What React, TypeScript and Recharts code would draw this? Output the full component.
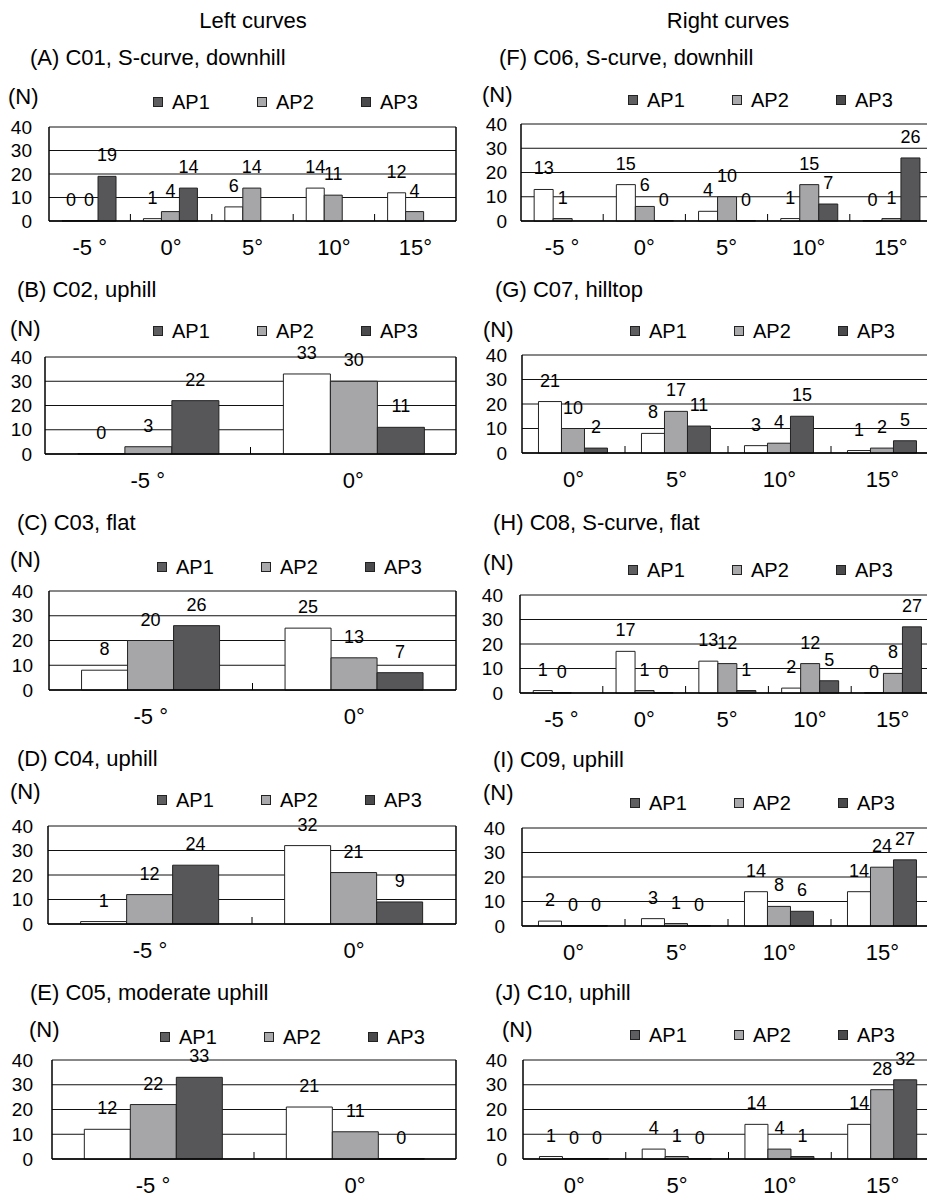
import React from 'react';
import { BarChart, Bar, XAxis, YAxis, CartesianGrid, LabelList } from 'recharts';

const seriesNames = ['AP1', 'AP2', 'AP3'];
const seriesKeys = ['ap1', 'ap2', 'ap3'];
const barFills = ['#ffffff', '#a6a6a9', '#57575a'];
const legendFills = ['#5e5e60', '#a9a9ab', '#4a4a4c'];
const yTicks = [0, 10, 20, 30, 40];

const angles5 = ['-5 °', '0°', '5°', '10°', '15°'];
const angles2 = ['-5 °', '0°'];
const angles4 = ['0°', '5°', '10°', '15°'];

// left curves
const c01Ap1 = [0, 1, 6, 14, 12];
const c01Ap2 = [0, 4, 14, 11, 4];
const c01Ap3 = [19, 14, null, null, null];

const c02Ap1 = [0, 33];
const c02Ap2 = [3, 30];
const c02Ap3 = [22, 11];

const c03Ap1 = [8, 25];
const c03Ap2 = [20, 13];
const c03Ap3 = [26, 7];

const c04Ap1 = [1, 32];
const c04Ap2 = [12, 21];
const c04Ap3 = [24, 9];

const c05Ap1 = [12, 21];
const c05Ap2 = [22, 11];
const c05Ap3 = [33, 0];

// right curves
const c06Ap1 = [13, 15, 4, 1, 0];
const c06Ap2 = [1, 6, 10, 15, 1];
const c06Ap3 = [null, 0, 0, 7, 26];

const c07Ap1 = [21, 8, 3, 1];
const c07Ap2 = [10, 17, 4, 2];
const c07Ap3 = [2, 11, 15, 5];

const c08Ap1 = [1, 17, 13, 2, 0];
const c08Ap2 = [0, 1, 12, 12, 8];
const c08Ap3 = [null, 0, 1, 5, 27];

const c09Ap1 = [2, 3, 14, 14];
const c09Ap2 = [0, 1, 8, 24];
const c09Ap3 = [0, 0, 6, 27];

const c10Ap1 = [1, 4, 14, 14];
const c10Ap2 = [0, 1, 4, 28];
const c10Ap3 = [0, 0, 1, 32];

const FONT = '"Liberation Sans", Arial, sans-serif';

function table(cats: string[], a: (number | null)[], b: (number | null)[], c: (number | null)[]) {
  return cats.map((angle, i) => ({ angle, ap1: a[i], ap2: b[i], ap3: c[i] }));
}

const panels = [
  { title: '(A) C01, S-curve, downhill', data: table(angles5, c01Ap1, c01Ap2, c01Ap3), titleX: 30, titleY: 58, nX: 8, nY: 97, legX: 153, legY: 102, top: 127, bottom: 221, left: 49, right: 456, tickRight: 32 },
  { title: '(B) C02, uphill', data: table(angles2, c02Ap1, c02Ap2, c02Ap3), titleX: 17, titleY: 290, nX: 10, nY: 329, legX: 153, legY: 331, top: 357, bottom: 454, left: 45, right: 456, tickRight: 32 },
  { title: '(C) C03, flat', data: table(angles2, c03Ap1, c03Ap2, c03Ap3), titleX: 17, titleY: 523, nX: 10, nY: 560, legX: 157, legY: 567, top: 591, bottom: 690, left: 49, right: 456, tickRight: 33 },
  { title: '(D) C04, uphill', data: table(angles2, c04Ap1, c04Ap2, c04Ap3), titleX: 17, titleY: 759, nX: 10, nY: 792, legX: 157, legY: 800, top: 826, bottom: 924, left: 48, right: 456, tickRight: 33 },
  { title: '(E) C05, moderate uphill', data: table(angles2, c05Ap1, c05Ap2, c05Ap3), titleX: 30, titleY: 993, nX: 29, nY: 1030, legX: 160, legY: 1037, top: 1060, bottom: 1159, left: 52, right: 456, tickRight: 33 },
  { title: '(F) C06, S-curve, downhill', data: table(angles5, c06Ap1, c06Ap2, c06Ap3), titleX: 499, titleY: 58, nX: 482, nY: 95, legX: 628, legY: 100, top: 124, bottom: 221, left: 521, right: 932, tickRight: 507 },
  { title: '(G) C07, hilltop', data: table(angles4, c07Ap1, c07Ap2, c07Ap3), titleX: 495, titleY: 290, nX: 483, nY: 330, legX: 630, legY: 331, top: 355, bottom: 453, left: 522, right: 934, tickRight: 507 },
  { title: '(H) C08, S-curve, flat', data: table(angles5, c08Ap1, c08Ap2, c08Ap3), titleX: 493, titleY: 523, nX: 483, nY: 563, legX: 628, legY: 570, top: 595, bottom: 693, left: 520, right: 934, tickRight: 503 },
  { title: '(I) C09, uphill', data: table(angles4, c09Ap1, c09Ap2, c09Ap3), titleX: 493, titleY: 760, nX: 483, nY: 793, legX: 630, legY: 803, top: 828, bottom: 926, left: 522, right: 934, tickRight: 505 },
  { title: '(J) C10, uphill', data: table(angles4, c10Ap1, c10Ap2, c10Ap3), titleX: 495, titleY: 993, nX: 502, nY: 1030, legX: 630, legY: 1035, top: 1060, bottom: 1159, left: 523, right: 934, tickRight: 507 },
];

function TextAt({ x, cy, size, children, center }: any) {
  return (
    <div
      style={{
        position: 'absolute',
        left: center ? x - 150 : x,
        width: center ? 300 : undefined,
        textAlign: center ? 'center' : 'left',
        top: cy - size * 0.49,
        fontSize: size,
        lineHeight: `${size}px`,
        fontFamily: FONT,
        whiteSpace: 'nowrap',
        color: '#000',
      }}
    >
      {children}
    </div>
  );
}

function AngleTick(props: any) {
  const { x, y, payload, index, band, count, axisY } = props;
  return (
    <g>
      <text x={x} y={y} dy="0.71em" textAnchor="middle" fontSize={22} fill="#000" fontFamily={FONT}>
        {payload.value}
      </text>
      {index < count - 1 && (
        <line x1={x + band / 2} x2={x + band / 2} y1={axisY} y2={axisY - 7} stroke="#000" strokeWidth={1} />
      )}
    </g>
  );
}

function ValueLabel(props: any) {
  const { x, y, width, value } = props;
  if (value == null || x == null || y == null) return null;
  return (
    <text x={Number(x) + Number(width) / 2} y={Number(y) - 15} textAnchor="middle" fontSize={18} fill="#000" fontFamily={FONT}>
      {String(value)}
    </text>
  );
}

function Panel({ p }: any) {
  const yW = 60;
  const mTop = 14;
  const xH = 48;
  const plotW = p.right - p.left;
  const plotH = p.bottom - p.top;
  const n = p.data.length;
  const band = plotW / n;
  return (
    <>
      <TextAt x={p.titleX} cy={p.titleY} size={22}>{p.title}</TextAt>
      <TextAt x={p.nX} cy={p.nY} size={22}>(N)</TextAt>
      {seriesNames.map((s, i) => (
        <div
          key={s}
          style={{ position: 'absolute', left: p.legX + i * 104, top: p.legY - 10, height: 20, display: 'flex', alignItems: 'center', fontFamily: FONT, fontSize: 20 }}
        >
          <span style={{ width: 8, height: 8, background: legendFills[i], border: '1px solid #222', marginRight: 9, display: 'inline-block' }} />
          <span>{s}</span>
        </div>
      ))}
      <div style={{ position: 'absolute', left: p.left - yW, top: p.top - mTop }}>
        <BarChart
          width={yW + plotW + 1}
          height={mTop + plotH + xH}
          data={p.data}
          margin={{ top: mTop, right: 0, bottom: 0, left: 0 }}
          barCategoryGap="16%"
          barGap={0}
        >
          <CartesianGrid vertical={false} stroke="#111" strokeWidth={1} />
          {seriesKeys.map((k, i) => (
            <Bar key={k} dataKey={k} name={seriesNames[i]} fill={barFills[i]} stroke="#222" strokeWidth={1} minPointSize={0.3} isAnimationActive={false}>
              <LabelList dataKey={k} content={<ValueLabel />} />
            </Bar>
          ))}
          <XAxis
            dataKey="angle"
            height={xH}
            axisLine={{ stroke: '#000', strokeWidth: 1.5 }}
            tickLine={false}
            tickSize={0}
            tickMargin={18}
            interval={0}
            tick={(tp: any) => <AngleTick {...tp} band={band} count={n} axisY={mTop + plotH} />}
          />
          <YAxis
            width={yW}
            domain={[0, 40]}
            ticks={yTicks}
            interval={0}
            axisLine={{ stroke: '#000', strokeWidth: 1.5 }}
            tickLine={false}
            tickSize={0}
            tickMargin={p.left - p.tickRight}
            tick={{ fontSize: 19, fill: '#000', fontFamily: FONT }}
          />
          <YAxis
            yAxisId="frame"
            orientation="right"
            width={1}
            domain={[0, 40]}
            tick={false}
            tickLine={false}
            axisLine={{ stroke: '#000', strokeWidth: 1.5 }}
          />
        </BarChart>
      </div>
    </>
  );
}

export default function App() {
  return (
    <div style={{ position: 'absolute', left: 0, top: 0, width: 927, height: 1199, overflow: 'hidden', background: '#fff' }}>
      <TextAt x={253} cy={21} size={22} center>Left curves</TextAt>
      <TextAt x={728} cy={21} size={22} center>Right curves</TextAt>
      {panels.map((p) => (
        <Panel key={p.title} p={p} />
      ))}
    </div>
  );
}
